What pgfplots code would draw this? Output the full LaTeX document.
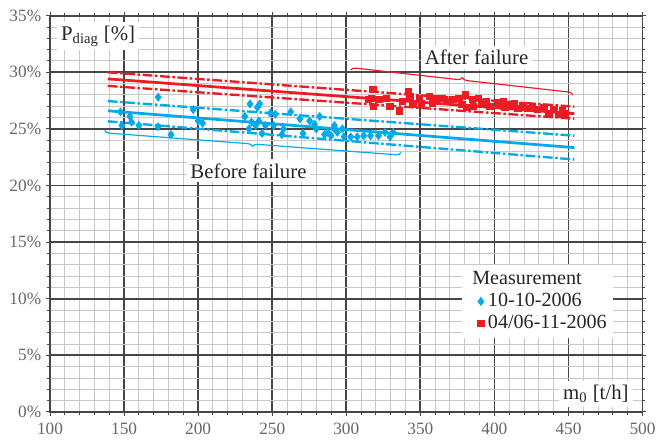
\documentclass[border=0pt]{standalone}
\usepackage{fontspec}
\setmainfont{Liberation Serif}
\usepackage{pgfplots}
\pgfplotsset{compat=1.18}
\usetikzlibrary{calc,decorations.pathreplacing}

\definecolor{mblue}{RGB}{0,170,235}
\definecolor{mred}{RGB}{237,28,36}
\definecolor{gmaj}{RGB}{70,70,70}
\definecolor{gmin}{RGB}{200,200,200}

\begin{document}
\begin{tikzpicture}
\begin{axis}[
    scale only axis,
    width=302pt, height=202pt,
    xmin=100, xmax=500, ymin=0, ymax=35,
    xtick={100,150,...,500},
    ytick={0,5,...,35},
    minor x tick num=4, minor y tick num=4,
    grid=both,
    major grid style={gmaj, line width=0.9pt},
    minor grid style={gmin, line width=0.5pt},
    axis line style={gmaj, line width=0.9pt},
    tick align=outside,
    major tick length=2pt, minor tick length=1.5pt,
    tick style={gmaj, line width=0.5pt},
    yticklabel={\pgfmathprintnumber{\tick}\%},
    /pgf/number format/assume math mode=true,
    ticklabel style={font=\fontsize{8.8}{10}\selectfont, text=black!60},
    yticklabel style={xshift=1pt},
    legend cell align=left,
    legend style={at={(0.695,0.371)}, anchor=north west, draw=none, fill=white,
        font=\fontsize{10.25}{11}\selectfont, text=black!85,
        inner sep=1pt, row sep=-1pt},
    dashdot/.style={dash pattern=on 5pt off 1.3pt on 1.3pt off 1.3pt, line width=1.2pt},
]

\addlegendimage{empty legend}
\addlegendentry{\hspace*{-8pt}Measurement}

% regression bands
\addplot[mred, dashdot, forget plot] coordinates {(139,30.0) (454,26.97)};
\addplot[mred, line width=1.4pt, forget plot] coordinates {(139,29.42) (454,26.35)};
\addplot[mred, dashdot, forget plot] coordinates {(139,28.8) (454,25.9)};

\addplot[mblue, dashdot, forget plot] coordinates {(139,27.46) (454,24.4)};
\addplot[mblue, line width=1.4pt, forget plot] coordinates {(139,26.6) (454,23.35)};
\addplot[mblue, dashdot, forget plot] coordinates {(139,25.67) (454,22.3)};

% measurement 10-10-2006
\addplot[only marks, mark=diamond*, mark size=2pt, color=mblue] coordinates {
(147.6,26.5) (148.5,25.3) (154,26.1) (155,25.6) (160,25.3) (173,27.8)
(173,25.2) (181.7,24.5) (196.7,26.7) (200,25.7) (203,25.5) (231.5,26.1)
(234.3,25.0) (235,27.2) (236,25.6) (238.8,25.3) (240,26.9) (241,25.7)
(241.6,27.2) (243.2,24.6) (245.4,25.3) (248.7,26.4) (251,25.3) (252,26.3)
(256.5,24.5) (257.6,25.0) (262.5,26.5) (268.7,25.9) (270.8,24.6) (275.3,25.7)
(278.6,25.4) (279.7,25.0) (282,26.1) (285.3,24.5) (287.5,24.7) (289.7,24.4)
(292,25.3) (292,25.0) (294,24.7) (297.4,25.0) (298.5,24.3) (303,24.3)
(307.4,24.3) (311.8,24.4) (316.3,24.4) (321.8,24.4) (326.2,24.7) (329.5,24.3)
(331.7,24.7)
};
\addlegendentry{10-10-2006}

% measurement 04/06-11-2006
\addplot[only marks, mark=square*, mark size=1.6pt, color=mred] coordinates {
(315,27.6) (317,27.7) (318,28.5) (318.5,27.0) (322,27.6) (327,27.7)
(329.5,27.0) (336,26.6) (338,27.4) (341.7,28.3) (343,27.9) (345,27.2)
(349.5,27.7) (350.5,27.2) (356,27.9) (358,27.3) (360.5,27.7) (365,27.7)
(368,27.4) (372,27.6) (376,27.7) (378,27.15) (380.4,28.0) (381.5,26.9)
(385,27.6) (386,27.0) (389.3,27.7) (391.5,27.15) (394.8,27.4) (397,27.0)
(402.6,27.3) (406,27.4) (407,26.9) (410.3,27.15) (413.6,27.2) (415.9,26.8)
(419.2,27.1) (422.5,26.8) (425.8,27.0) (429,26.7) (433.5,26.9) (436.8,26.4)
(440.2,26.7) (443.5,26.3) (445.7,26.6) (447.9,26.4)
};
\addlegendentry{04/06-11-2006}

% braces
\draw[mblue, line width=0.6pt, decorate, decoration={brace, mirror, amplitude=2.5pt}]
    (axis cs:137,24.87) -- (axis cs:337,22.9);
\draw[mred, line width=0.6pt, decorate, decoration={brace, amplitude=2.5pt}]
    (axis cs:303,30.2) -- (axis cs:453,28.0);

% labels
\node[fill=white, inner sep=2pt, text=black!85, font=\fontsize{10.6}{12}\selectfont]
    at (axis cs:234,21.3) {Before failure};
\node[fill=white, inner sep=2pt, text=black!85, font=\fontsize{10.6}{12}\selectfont]
    at (axis cs:388,31.3) {After failure};
\node[fill=white, inner sep=2pt, text=black!85, font=\fontsize{10.6}{12}\selectfont]
    at (axis cs:132.5,33.2) {P\textsubscript{diag} [\%]};
\node[fill=white, inner sep=2pt, text=black!85, font=\fontsize{10.6}{12}\selectfont]
    at (axis cs:468.5,1.6) {m\textsubscript{0} [t/h]};
\end{axis}
\path ($(current axis.south west)+(-25.5pt,-14pt)$) rectangle ($(current axis.north east)+(3.5pt,8pt)$);
\end{tikzpicture}
\end{document}
